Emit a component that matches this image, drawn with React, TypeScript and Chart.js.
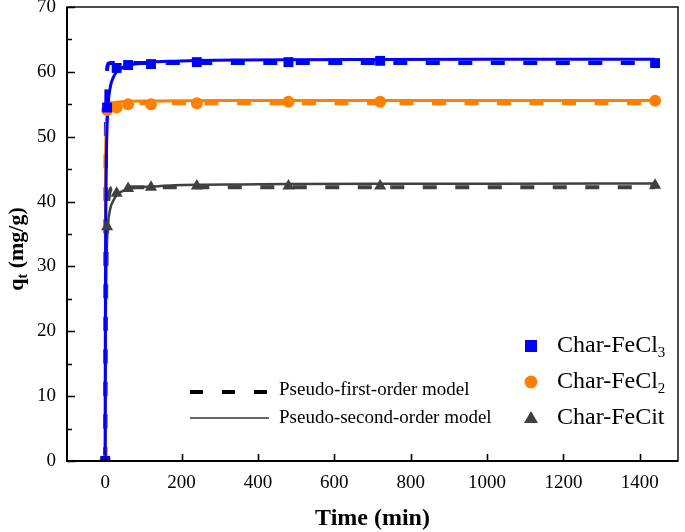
import React, { useEffect, useRef } from "react";
import { Chart, registerables } from "chart.js";

Chart.register(...registerables);

// Measured data (time in min, qt in mg/g)
const timeMin = [0, 5, 30, 60, 120, 240, 480, 720, 1440];
const fecl3Qt = [0, 54.5, 60.6, 61.05, 61.2, 61.5, 61.5, 61.7, 61.35];
const fecl2Qt = [0, 54.1, 54.5, 55.0, 55.0, 55.15, 55.4, 55.4, 55.55];
const fecitQt = [0, 36.1, 41.3, 42.0, 42.2, 42.4, 42.4, 42.4, 42.5];

// Model curves
const modelTime = [0, 1, 2, 3, 4, 5, 7, 10, 15, 20, 30, 45, 60, 90, 120, 180, 240, 360, 480, 720, 1000, 1440];
const fecl3Pfo = [0, 33, 49, 56, 59, 60.3, 61.1, 61.3, 61.35, 61.35, 61.35, 61.35, 61.35, 61.35, 61.35, 61.35, 61.35, 61.35, 61.35, 61.35, 61.35, 61.35];
const fecl3Pso = [0, 31, 41.3, 46.5, 49.6, 51.7, 54.3, 56.4, 58.1, 59.0, 60.0, 60.65, 61.0, 61.3, 61.5, 61.65, 61.75, 61.83, 61.87, 61.91, 61.94, 61.96];
const fecl2Pfo = [0, 44, 52.5, 54.5, 55.0, 55.1, 55.15, 55.15, 55.15, 55.15, 55.15, 55.15, 55.15, 55.15, 55.15, 55.15, 55.15, 55.15, 55.15, 55.15, 55.15, 55.15];
const fecl2Pso = [0, 45, 50, 52, 53, 53.6, 54.3, 54.7, 55.0, 55.15, 55.3, 55.4, 55.45, 55.5, 55.5, 55.55, 55.55, 55.6, 55.6, 55.6, 55.6, 55.6];
const fecitPfo = [0, 12.5, 21.3, 27.6, 32, 35.1, 38.9, 41.0, 42.0, 42.15, 42.2, 42.2, 42.2, 42.2, 42.2, 42.2, 42.2, 42.2, 42.2, 42.2, 42.2, 42.2];
const fecitPso = [0, 18.5, 25.8, 29.8, 32.3, 34.1, 36.4, 37.9, 39.3, 40.0, 41.0, 41.6, 41.9, 42.2, 42.3, 42.5, 42.6, 42.65, 42.7, 42.75, 42.75, 42.8];

// Axis ticks
const xTicks = [0, 200, 400, 600, 800, 1000, 1200, 1400];
const yTicks = [0, 10, 20, 30, 40, 50, 60, 70];
const yMinorTicks = [5, 15, 25, 35, 45, 55, 65];

const BLUE = "#0000FF";
const ORANGE = "#FF8000";
const GRAY = "#404040";
const FONT = "'Liberation Serif', 'Times New Roman', serif";

const pts = (xs: number[], ys: number[]) => xs.map((x, i) => ({ x, y: ys[i] }));

function drawSub(
  ctx: CanvasRenderingContext2D,
  x: number,
  y: number,
  main: string,
  sub: string,
  size: number,
  subSize: number,
  bold: boolean,
  rest = ""
) {
  const w = bold ? "bold " : "";
  ctx.font = `${w}${size}px ${FONT}`;
  ctx.fillText(main, x, y);
  let cx = x + ctx.measureText(main).width;
  ctx.font = `${w}${subSize}px ${FONT}`;
  ctx.fillText(sub, cx, y + size * 0.28);
  cx += ctx.measureText(sub).width;
  if (rest) {
    ctx.font = `${w}${size}px ${FONT}`;
    ctx.fillText(rest, cx, y);
  }
}

const overlay = {
  id: "overlay",
  afterDraw(chart: any) {
    const { ctx, chartArea: a, scales } = chart;
    const xs = scales.x;
    const ys = scales.y;
    ctx.save();
    ctx.strokeStyle = "#000";
    ctx.lineCap = "butt";
    // ticks (inward)
    ctx.lineWidth = 1.6;
    ctx.beginPath();
    for (const v of xTicks) {
      const px = Math.round(xs.getPixelForValue(v)) + 0.5;
      ctx.moveTo(px, a.bottom);
      ctx.lineTo(px, a.bottom - 7);
    }
    for (const v of yTicks) {
      const py = Math.round(ys.getPixelForValue(v)) + 0.5;
      ctx.moveTo(a.left, py);
      ctx.lineTo(a.left + 8, py);
    }
    for (const v of yMinorTicks) {
      const py = Math.round(ys.getPixelForValue(v)) + 0.5;
      ctx.moveTo(a.left, py);
      ctx.lineTo(a.left + 5, py);
    }
    ctx.stroke();
    // frame
    ctx.lineWidth = 1.4;
    ctx.strokeRect(a.left, a.top, a.right - a.left, a.bottom - a.top);
    ctx.lineWidth = 2;
    ctx.beginPath();
    ctx.moveTo(a.left, a.top);
    ctx.lineTo(a.left, a.bottom);
    ctx.lineTo(a.right, a.bottom);
    ctx.stroke();

    ctx.fillStyle = "#000";
    ctx.textBaseline = "middle";
    ctx.textAlign = "left";

    // x title
    ctx.font = `bold 24px ${FONT}`;
    ctx.textAlign = "center";
    ctx.fillText("Time (min)", (a.left + a.right) / 2, 519);
    ctx.textAlign = "left";

    // y title (rotated)
    ctx.save();
    ctx.translate(17, 249);
    ctx.rotate(-Math.PI / 2);
    ctx.font = `bold 22px ${FONT}`;
    const wq = ctx.measureText("q").width;
    const wr = ctx.measureText(" (mg/g)").width;
    ctx.font = `bold 14px ${FONT}`;
    const wt = ctx.measureText("t").width;
    drawSub(ctx, -(wq + wt + wr) / 2, 0, "q", "t", 22, 14, true, " (mg/g)");
    ctx.restore();

    // left legend (model lines)
    ctx.strokeStyle = "#000";
    ctx.lineWidth = 4;
    ctx.setLineDash([13, 19]);
    ctx.beginPath();
    ctx.moveTo(190, 392);
    ctx.lineTo(269, 392);
    ctx.stroke();
    ctx.setLineDash([]);
    ctx.strokeStyle = "#333";
    ctx.lineWidth = 1.5;
    ctx.beginPath();
    ctx.moveTo(190, 418);
    ctx.lineTo(269, 418);
    ctx.stroke();
    ctx.font = `19px ${FONT}`;
    ctx.fillText("Pseudo-first-order model", 279, 390);
    ctx.fillText("Pseudo-second-order model", 279, 418);

    // right legend (markers)
    const mx = 531;
    ctx.fillStyle = BLUE;
    ctx.fillRect(mx - 6, 346 - 6, 12, 12);
    ctx.fillStyle = ORANGE;
    ctx.beginPath();
    ctx.arc(mx, 382, 6.5, 0, Math.PI * 2);
    ctx.fill();
    ctx.fillStyle = GRAY;
    ctx.beginPath();
    ctx.moveTo(mx, 411);
    ctx.lineTo(mx + 7, 423);
    ctx.lineTo(mx - 7, 423);
    ctx.closePath();
    ctx.fill();
    ctx.fillStyle = "#000";
    drawSub(ctx, 557, 346, "Char-FeCl", "3", 24, 15, false);
    drawSub(ctx, 557, 382, "Char-FeCl", "2", 24, 15, false);
    ctx.font = `24px ${FONT}`;
    ctx.fillText("Char-FeCit", 557, 418);
    ctx.restore();
  },
};

export default function App() {
  const ref = useRef<HTMLCanvasElement | null>(null);
  useEffect(() => {
    if (!ref.current) return;
    const lineBase = {
      type: "line" as const,
      showLine: true,
      pointRadius: 0,
      pointHoverRadius: 0,
      fill: false,
      cubicInterpolationMode: "monotone" as const,
    };
    const chart = new Chart(ref.current, {
      type: "scatter",
      data: {
        datasets: [
          { label: "Char-FeCl3", data: pts(timeMin, fecl3Qt), pointStyle: "rect", pointRadius: 7, backgroundColor: BLUE, borderColor: BLUE, borderWidth: 0 },
          { label: "Char-FeCl2", data: pts(timeMin, fecl2Qt), pointStyle: "circle", pointRadius: 6, backgroundColor: ORANGE, borderColor: ORANGE, borderWidth: 0 },
          { label: "Char-FeCit", data: pts(timeMin, fecitQt), pointStyle: "triangle", pointRadius: 7, backgroundColor: GRAY, borderColor: GRAY, borderWidth: 0 },
          { ...lineBase, label: "FeCl3 PSO", data: pts(modelTime, fecl3Pso), borderColor: BLUE, borderWidth: 3 },
          { ...lineBase, label: "FeCl2 PSO", data: pts(modelTime, fecl2Pso), borderColor: ORANGE, borderWidth: 3 },
          { ...lineBase, label: "FeCit PSO", data: pts(modelTime, fecitPso), borderColor: GRAY, borderWidth: 2.5 },
          { ...lineBase, label: "FeCl3 PFO", data: pts(modelTime, fecl3Pfo), borderColor: BLUE, borderWidth: 4, borderDash: [14, 18.5] },
          { ...lineBase, label: "FeCl2 PFO", data: pts(modelTime, fecl2Pfo), borderColor: ORANGE, borderWidth: 4, borderDash: [14, 18.5] },
          { ...lineBase, label: "FeCit PFO", data: pts(modelTime, fecitPfo), borderColor: GRAY, borderWidth: 4, borderDash: [14, 18.5] },
        ] as any,
      },
      options: {
        animation: false,
        responsive: false,
        maintainAspectRatio: false,
        layout: { padding: { top: 7, right: 2, left: 0, bottom: 0 } },
        plugins: { legend: { display: false }, tooltip: { enabled: false }, title: { display: false } },
        scales: {
          x: {
            type: "linear",
            min: -100,
            max: 1500,
            grid: { display: false, drawTicks: false },
            border: { display: false },
            ticks: {
              color: "#000",
              font: { family: FONT, size: 19 },
              padding: 11,
              maxRotation: 0,
              callback: (v: any) => String(v),
            },
            afterBuildTicks: (s: any) => {
              s.ticks = xTicks.map((v) => ({ value: v }));
            },
            afterFit: (s: any) => {
              s.height = 71;
              s.paddingLeft = 0;
              s.paddingRight = 0;
              s.paddingTop = 0;
              s.paddingBottom = 0;
            },
          },
          y: {
            type: "linear",
            min: 0,
            max: 70,
            grid: { display: false, drawTicks: false },
            border: { display: false },
            ticks: {
              color: "#000",
              font: { family: FONT, size: 19 },
              padding: 11,
              callback: (v: any) => String(v),
            },
            afterBuildTicks: (s: any) => {
              s.ticks = yTicks.map((v) => ({ value: v }));
            },
            afterFit: (s: any) => {
              s.width = 67;
              s.paddingLeft = 0;
              s.paddingRight = 0;
              s.paddingTop = 0;
              s.paddingBottom = 0;
            },
          },
        },
      },
      plugins: [overlay],
    });
    return () => chart.destroy();
  }, []);
  return (
    <div style={{ position: "absolute", left: 0, top: 0, width: 685, height: 532, background: "#fff" }}>
      <canvas ref={ref} width={685} height={532} style={{ width: 685, height: 532, display: "block" }} />
    </div>
  );
}
